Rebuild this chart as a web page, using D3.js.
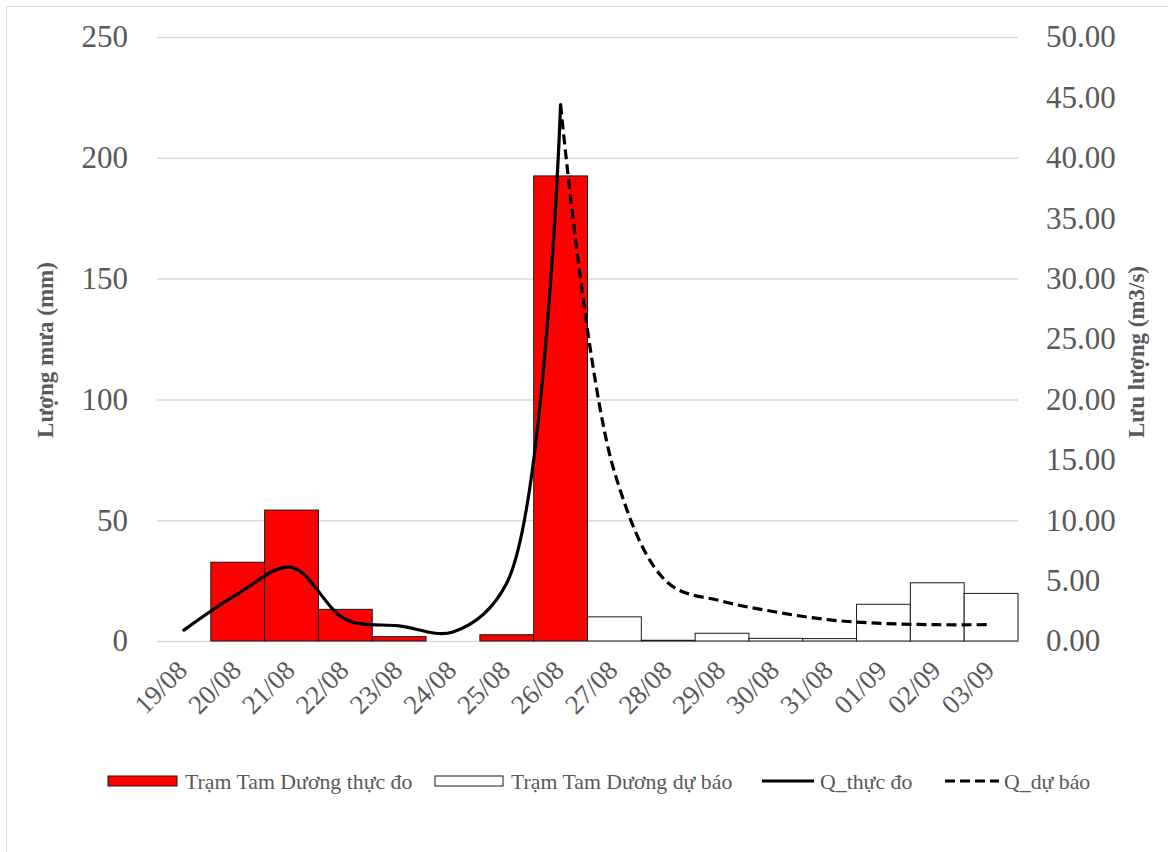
<!DOCTYPE html>
<html>
<head>
<meta charset="utf-8">
<script src="https://cdn.jsdelivr.net/npm/d3@7"></script>
<style>
  html, body { margin: 0; padding: 0; background: #fff; }
  svg { display: block; }
</style>
</head>
<body>
<svg id="chart" width="1168" height="852"></svg>
<script>
const dates = ["19/08","20/08","21/08","22/08","23/08","24/08","25/08","26/08","27/08","28/08","29/08","30/08","31/08","01/09","02/09","03/09"];
const rainObserved = [0, 32.6, 54.2, 13.1, 1.8, 0, 2.6, 192.5, null, null, null, null, null, null, null, null];
const rainForecast = [null, null, null, null, null, null, null, null, 10.0, 0.3, 3.2, 1.1, 1.0, 15.2, 24.1, 19.7];
const flowObserved = [0.9, 3.9, 6.1, 1.8, 1.25, 0.75, 4.8, 44.4, null, null, null, null, null, null, null, null];
const flowForecast = [null, null, null, null, null, null, null, 44.4, 14.0, 4.8, 3.3, 2.4, 1.75, 1.45, 1.35, 1.35];
const leftTicks = [0, 50, 100, 150, 200, 250];
const rightTicks = [0, 5, 10, 15, 20, 25, 30, 35, 40, 45, 50];
const legendLabels = ["Trạm Tam Dương thực đo", "Trạm Tam Dương dự báo", "Q_thực đo", "Q_dự báo"];
const leftTitle = "Lượng mưa (mm)";
const rightTitle = "Lưu lượng (m3/s)";

const FONT = "'Liberation Serif', 'Times New Roman', 'DejaVu Serif', serif";
const svg = d3.select("#chart").attr("font-family", FONT);
const L = 157, R = 1018, T = 37, B = 641;
const x = d3.scaleBand().domain(dates).range([L, R]).padding(0);
const yL = d3.scaleLinear().domain([0, 250]).range([B, T]);
const yR = d3.scaleLinear().domain([0, 50]).range([B, T]);
const gray = "#595959";

// outer border
svg.append("rect").attr("x", 6.5).attr("y", 6.5).attr("width", 1175).attr("height", 860)
  .attr("fill", "none").attr("stroke", "#d9d9d9").attr("stroke-width", 1);

// gridlines
svg.append("g").attr("transform", `translate(${L},0)`)
  .call(d3.axisLeft(yL).tickValues(leftTicks).tickSize(-(R - L)).tickFormat(""))
  .call(g => g.select(".domain").remove())
  .call(g => g.selectAll("line").attr("stroke", "#d9d9d9").attr("stroke-width", 1.5));

// bars
const bw = x.bandwidth();
svg.append("g").selectAll("rect")
  .data(dates.map((d, i) => ({ d, v: rainObserved[i] })).filter(o => o.v !== null && o.v > 0))
  .join("rect")
  .attr("x", o => x(o.d)).attr("y", o => yL(o.v))
  .attr("width", bw).attr("height", o => yL(0) - yL(o.v))
  .attr("fill", "#ff0000").attr("stroke", "#1a1a1a").attr("stroke-width", 1);
svg.append("g").selectAll("rect")
  .data(dates.map((d, i) => ({ d, v: rainForecast[i] })).filter(o => o.v !== null))
  .join("rect")
  .attr("x", o => x(o.d)).attr("y", o => yL(o.v))
  .attr("width", bw).attr("height", o => yL(0) - yL(o.v))
  .attr("fill", "#ffffff").attr("stroke", "#1a1a1a").attr("stroke-width", 1);

// lines
const cx = d => x(d) + bw / 2;
const line = d3.line().x(o => cx(o.d)).y(o => yR(o.v)).curve(d3.curveCatmullRom.alpha(0.5));
svg.append("path")
  .datum(dates.map((d, i) => ({ d, v: flowObserved[i] })).filter(o => o.v !== null))
  .attr("d", line).attr("fill", "none").attr("stroke", "#000").attr("stroke-width", 3.2)
  .attr("stroke-linejoin", "round").attr("stroke-linecap", "round");
svg.append("path")
  .datum(dates.map((d, i) => ({ d, v: flowForecast[i] })).filter(o => o.v !== null))
  .attr("d", line).attr("fill", "none").attr("stroke", "#000").attr("stroke-width", 3.2)
  .attr("stroke-dasharray", "10,5");

function styleText(sel, size) {
  sel.attr("fill", gray).style("font-size", size).style("font-family", FONT);
}

// left axis
svg.append("g").attr("transform", `translate(${L},0)`)
  .call(d3.axisLeft(yL).tickValues(leftTicks).tickSize(0).tickPadding(29))
  .call(g => g.attr("font-family", FONT).select(".domain").remove())
  .call(g => styleText(g.selectAll("text"), "31px"));

// right axis
svg.append("g").attr("transform", `translate(${R},0)`)
  .call(d3.axisRight(yR).tickValues(rightTicks).tickSize(0).tickPadding(28).tickFormat(d3.format(".2f")))
  .call(g => g.attr("font-family", FONT).select(".domain").remove())
  .call(g => styleText(g.selectAll("text"), "31px"));

// x axis labels
svg.append("g").attr("transform", `translate(0,${B})`)
  .call(d3.axisBottom(x).tickSize(0))
  .call(g => g.attr("font-family", FONT).select(".domain").remove())
  .call(g => styleText(g.selectAll("text")
    .attr("x", 0).attr("y", 0).attr("dy", 0)
    .attr("transform", "translate(5,31) rotate(-45)")
    .style("text-anchor", "end"), "27px"));

// axis titles
styleText(svg.append("text").attr("transform", "translate(53,350) rotate(-90)")
  .attr("text-anchor", "middle").style("font-weight", "bold").text(leftTitle), "23px");
styleText(svg.append("text").attr("transform", "translate(1144,352) rotate(-90)")
  .attr("text-anchor", "middle").style("font-weight", "bold").text(rightTitle), "23px");

// legend
const ly = 781;
const lg = svg.append("g");
const legendX = [108, 435, 762, 945];
const textX = [185, 511, 820, 1004];
lg.append("rect").attr("x", legendX[0]).attr("y", ly - 5).attr("width", 69).attr("height", 10)
  .attr("fill", "#ff0000").attr("stroke", "#1a1a1a").attr("stroke-width", 1);
lg.append("rect").attr("x", legendX[1]).attr("y", ly - 5).attr("width", 68).attr("height", 10)
  .attr("fill", "#fff").attr("stroke", "#1a1a1a").attr("stroke-width", 1);
lg.append("line").attr("x1", legendX[2]).attr("x2", legendX[2] + 52).attr("y1", ly).attr("y2", ly)
  .attr("stroke", "#000").attr("stroke-width", 3.2);
lg.append("line").attr("x1", legendX[3]).attr("x2", legendX[3] + 54).attr("y1", ly).attr("y2", ly)
  .attr("stroke", "#000").attr("stroke-width", 3.2).attr("stroke-dasharray", "10,5");
legendLabels.forEach((t, i) => {
  styleText(lg.append("text").attr("x", textX[i]).attr("y", ly).attr("dy", "0.35em").text(t), "21.8px");
});
</script>
</body>
</html>
